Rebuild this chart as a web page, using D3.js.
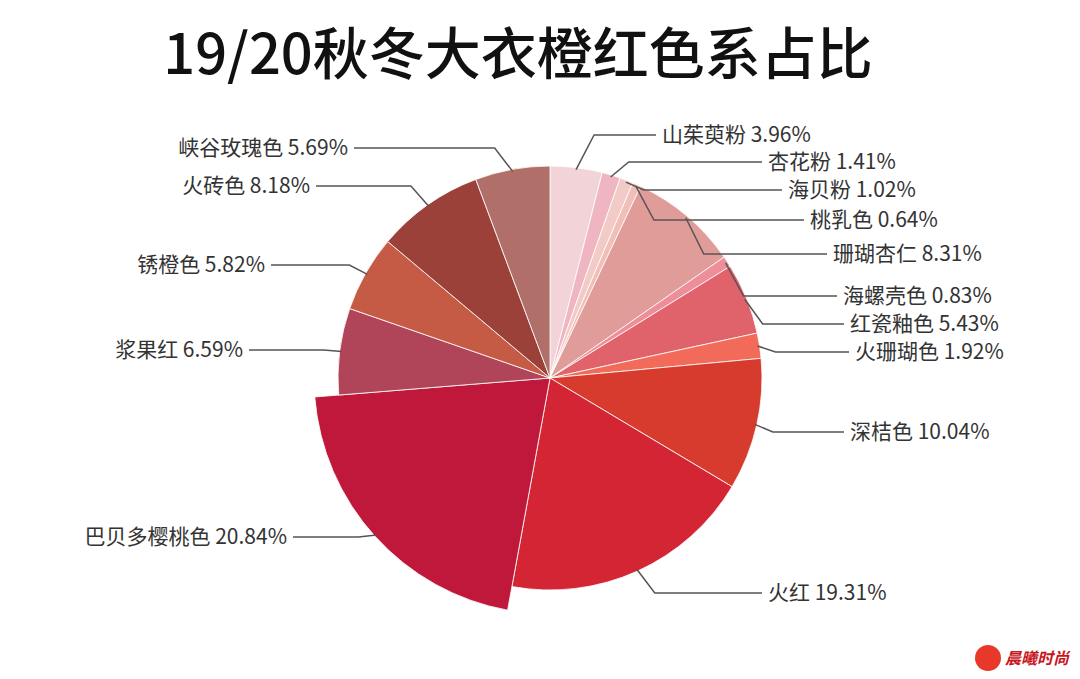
<!DOCTYPE html>
<html><head><meta charset="utf-8">
<script src="https://cdn.jsdelivr.net/npm/d3@7"></script>
<style>body{margin:0;background:#fff}text{font-family:"Noto Sans CJK SC","Noto Sans",sans-serif}</style>
</head><body><div id="chart"></div>
<script>
var names = ["山茱萸粉","杏花粉","海贝粉","桃乳色","珊瑚杏仁","海螺壳色","红瓷釉色","火珊瑚色","深桔色","火红","巴贝多樱桃色","浆果红","锈橙色","火砖色","峡谷玫瑰色"];
var values = [3.96,1.41,1.02,0.64,8.31,0.83,5.43,1.92,10.04,19.31,20.84,6.59,5.82,8.18,5.69];
var colors = ["#f2d3d8","#efb6c2","#f3cbc6","#f0bfb8","#e09c98","#ee8e9a","#e0626a","#f26a5a","#d63b2e","#d42535","#c0183a","#b04458","#c65b45","#9c4139","#b07069"];
// label anchor layout (x, y)
var labelPos = [[662,142],[768,169],[788,197],[810,227],[833,261],[843,303],[850,331],[855,359],[850,439],[768,600],[287,544],[243,357],[265,272],[310,193],[348,155]];

var W = 1080, H = 679, cx = 550, cy = 378, r = 212, rBig = 236;
var svg = d3.select("#chart").append("svg").attr("width", W).attr("height", H);

svg.append("text").attr("x", 518).attr("y", 74).attr("text-anchor", "middle")
    .attr("font-size", 56).attr("font-weight", 500).attr("fill", "#111").text("19/20秋冬大衣橙红色系占比");

var data = names.map((n, i) => ({name: n, value: values[i], color: colors[i], lp: labelPos[i]}));
var pie = d3.pie().value(d => d.value).sort(null);
var radiusOf = d => d.data.name === "巴贝多樱桃色" ? rBig : r;
var arc = d3.arc().innerRadius(0).outerRadius(radiusOf);
var arcs = pie(data);

var g = svg.append("g").attr("transform", "translate(" + cx + "," + cy + ")");

g.selectAll("path").data(arcs).enter().append("path")
    .attr("d", arc)
    .attr("fill", d => d.data.color)
    .attr("stroke", "#fff").attr("stroke-width", 0.8);

// leader lines + labels
arcs.forEach(d => {
    var a = (d.startAngle + d.endAngle) / 2;
    var rr = radiusOf(d) - 2;
    var x0 = cx + Math.sin(a) * rr, y0 = cy - Math.cos(a) * rr;
    var right = Math.sin(a) > 0;
    var dir = right ? 1 : -1;
    var lx = d.data.lp[0], ly = d.data.lp[1];
    var x1 = x0 + dir * 18, y1 = ly - 7;
    var x2 = lx - dir * 6;
    svg.append("polyline")
        .attr("points", [[x0, y0], [x1, y1], [x2, y1]].map(p => p.join(",")).join(" "))
        .attr("fill", "none").attr("stroke", "#555").attr("stroke-width", 1.5);
    svg.append("text").attr("x", lx).attr("y", ly)
        .attr("text-anchor", right ? "start" : "end")
        .attr("font-size", 21).attr("fill", "#333")
        .text(d.data.name + " " + d.data.value.toFixed(2) + "%");
});

// watermark
svg.append("circle").attr("cx", 988).attr("cy", 658).attr("r", 13).attr("fill", "#e8382a");
svg.append("text").attr("x", 1005).attr("y", 664).attr("font-size", 16).attr("font-style", "italic")
    .attr("font-weight", "bold").attr("fill", "#c8161d").text("晨曦时尚");
</script></body></html>
